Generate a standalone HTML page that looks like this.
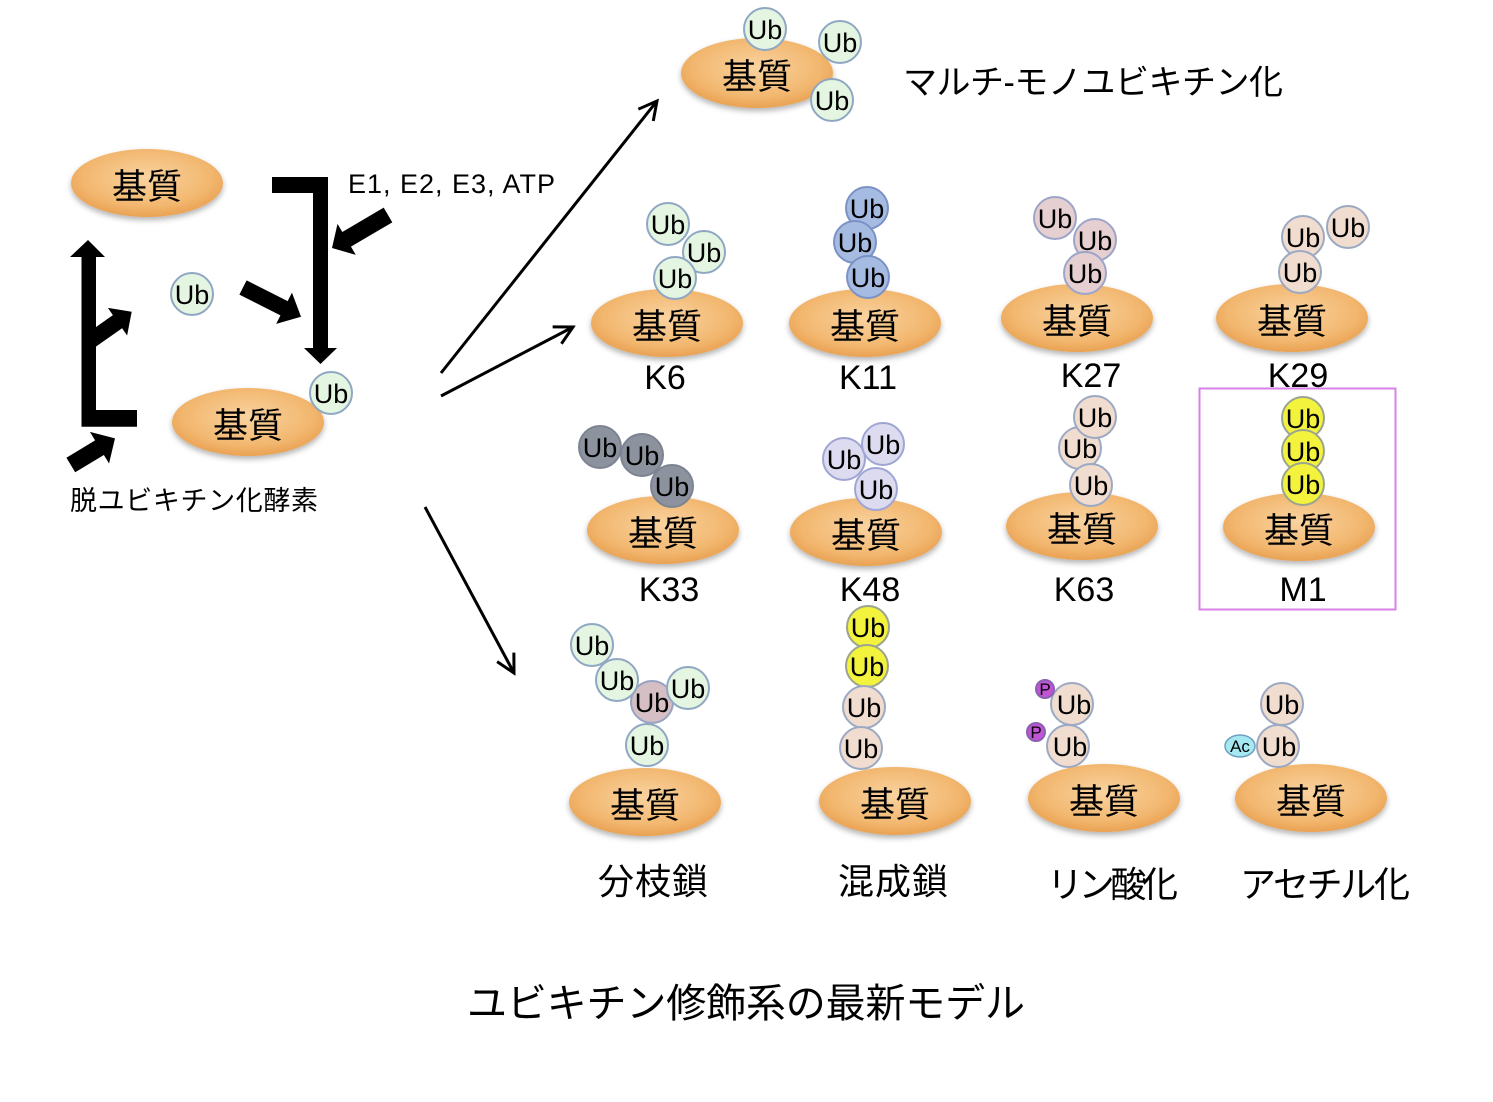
<!DOCTYPE html>
<html><head><meta charset="utf-8"><style>
html,body{margin:0;padding:0;background:#fff}
svg{display:block}
text{font-family:"Liberation Sans","Noto Sans CJK JP",sans-serif;fill:#000}
.u{font-size:27px;text-anchor:middle}
.s{font-size:35px;text-anchor:middle}
.k{font-size:34px;text-anchor:middle}
.j{font-size:36px}
.e{fill:url(#og)}
circle{stroke-width:2}
.cg{fill:#e4f5e1;stroke:#8fa7c3}
.cb{fill:#a6bbe2;stroke:#7b92c4}
.cp{fill:#e5cfd0;stroke:#9ca5c8}
.ce{fill:#f1ddd0;stroke:#9ba9c2}
.cr{fill:#8c939e;stroke:#7c8391}
.cl{fill:#dcdbf0;stroke:#9fa6d3}
.cy{fill:#f3f23c;stroke:#9aa48f}
.cm{fill:#d5bfc5;stroke:#97a3c2}
</style></head><body>
<svg width="1493" height="1102" viewBox="0 0 1493 1102" xmlns="http://www.w3.org/2000/svg">
<defs>
<radialGradient id="og" cx="50%" cy="42%" r="60%">
<stop offset="0" stop-color="#f9d3a0"/>
<stop offset="0.7" stop-color="#f2b76f"/>
<stop offset="1" stop-color="#e89f50"/>
</radialGradient>
<filter id="sh" x="-20%" y="-30%" width="140%" height="170%">
<feDropShadow dx="0" dy="3" stdDeviation="3" flood-color="#000" flood-opacity="0.3"/>
</filter>
<marker id="ah" viewBox="0 0 22 22" markerWidth="22" markerHeight="22" refX="19" refY="11" orient="auto" markerUnits="userSpaceOnUse">
<path d="M1,1.5 L19,11 L1,20.5" fill="none" stroke="#000" stroke-width="3"/>
</marker>
</defs>

<!-- Left cycle -->
<ellipse class="e" cx="147" cy="183" rx="76" ry="34" filter="url(#sh)"/>
<text class="s" x="147" y="199">基質</text>
<ellipse class="e" cx="248" cy="422" rx="76" ry="34" filter="url(#sh)"/>
<text class="s" x="248" y="438">基質</text>
<circle class="cg" cx="192" cy="294" r="21"/><text class="u" x="192" y="304">Ub</text>
<circle class="cg" cx="331" cy="393" r="21"/><text class="u" x="331" y="403">Ub</text>

<!-- bracket with down arrow -->
<polygon points="272,177 328,177 328,348 337,348 320.5,364 304,348 313,348 313,193 272,193" fill="#000"/>
<!-- left up arrow with bottom foot -->
<polygon points="81.5,426.7 137,426.7 137,410 96,410 96,257 105,257 88,240 70,257 81.5,257" fill="#000"/>
<!-- branch arrow -->
<polygon points="95,327.7 112.9,315.1 107.9,307.9 131.7,311.7 127.1,335.5 122.1,328.3 95,347.3" fill="#000"/>
<!-- E1 arrow -->
<g transform="translate(388,215) rotate(149.5)">
<polygon points="0,-8.5 48,-8.5 48,-18 65,0 48,18 48,8.5 0,8.5" fill="#000"/>
</g>
<!-- Ub to bracket arrow -->
<g transform="translate(243,287.5) rotate(26.8)">
<polygon points="0,-8 46,-8 46,-17.5 65,0 46,17.5 46,8 0,8" fill="#000"/>
</g>
<!-- deubiquitinase arrow -->
<g transform="translate(70.8,465) rotate(-31.1)">
<polygon points="0,-8.5 33.5,-8.5 33.5,-18.5 51.6,0 33.5,18.5 33.5,8.5 0,8.5" fill="#000"/>
</g>
<text x="348" y="193" style="font-size:27px" textLength="207">E1, E2, E3, ATP</text>
<text x="70" y="510" style="font-size:27px" textLength="248">脱ユビキチン化酵素</text>

<!-- thin arrows -->
<line x1="441" y1="373" x2="657" y2="101" stroke="#000" stroke-width="3" marker-end="url(#ah)"/>
<line x1="441" y1="396" x2="573" y2="327" stroke="#000" stroke-width="3" marker-end="url(#ah)"/>
<line x1="425" y1="507" x2="514" y2="673" stroke="#000" stroke-width="3" marker-end="url(#ah)"/>

<!-- Multi-mono -->
<ellipse class="e" cx="757" cy="73" rx="76" ry="35" filter="url(#sh)"/>
<text class="s" x="757" y="89">基質</text>
<circle class="cg" cx="765" cy="29" r="21"/><text class="u" x="765" y="39">Ub</text>
<circle class="cg" cx="840" cy="42" r="21"/><text class="u" x="840" y="52">Ub</text>
<circle class="cg" cx="832" cy="100" r="21"/><text class="u" x="832" y="110">Ub</text>
<text x="903" y="94" style="font-size:34px" textLength="380">マルチ-モノユビキチン化</text>

<!-- K6 -->
<ellipse class="e" cx="667" cy="323" rx="76" ry="34" filter="url(#sh)"/>
<circle class="cg" cx="668" cy="224" r="21"/><text class="u" x="668" y="234">Ub</text>
<circle class="cg" cx="704" cy="252" r="21"/><text class="u" x="704" y="262">Ub</text>
<circle class="cg" cx="675" cy="278" r="21"/><text class="u" x="675" y="288">Ub</text>
<text class="s" x="667" y="339">基質</text>
<text class="k" x="665" y="389">K6</text>

<!-- K11 -->
<ellipse class="e" cx="865" cy="323" rx="76" ry="34" filter="url(#sh)"/>
<circle class="cb" cx="867" cy="208" r="21"/><text class="u" x="867" y="218">Ub</text>
<circle class="cb" cx="855" cy="242" r="21"/><text class="u" x="855" y="252">Ub</text>
<circle class="cb" cx="868" cy="277" r="21"/><text class="u" x="868" y="287">Ub</text>
<text class="s" x="865" y="339">基質</text>
<text class="k" x="868" y="389">K11</text>

<!-- K27 -->
<ellipse class="e" cx="1077" cy="318" rx="76" ry="34" filter="url(#sh)"/>
<circle class="cp" cx="1055" cy="218" r="21"/><text class="u" x="1055" y="228">Ub</text>
<circle class="cp" cx="1095" cy="240" r="21"/><text class="u" x="1095" y="250">Ub</text>
<circle class="cp" cx="1085" cy="273" r="21"/><text class="u" x="1085" y="283">Ub</text>
<text class="s" x="1077" y="334">基質</text>
<text class="k" x="1091" y="387">K27</text>

<!-- K29 -->
<ellipse class="e" cx="1292" cy="318" rx="76" ry="34" filter="url(#sh)"/>
<circle class="ce" cx="1348" cy="227" r="21"/><text class="u" x="1348" y="237">Ub</text>
<circle class="ce" cx="1303" cy="237" r="21"/><text class="u" x="1303" y="247">Ub</text>
<circle class="ce" cx="1300" cy="272" r="21"/><text class="u" x="1300" y="282">Ub</text>
<text class="s" x="1292" y="334">基質</text>
<text class="k" x="1298" y="387">K29</text>

<!-- K33 -->
<ellipse class="e" cx="663" cy="530" rx="76" ry="34" filter="url(#sh)"/>
<circle class="cr" cx="600" cy="447" r="21"/><text class="u" x="600" y="457">Ub</text>
<circle class="cr" cx="642" cy="455" r="21"/><text class="u" x="642" y="465">Ub</text>
<circle class="cr" cx="672" cy="486" r="21"/><text class="u" x="672" y="496">Ub</text>
<text class="s" x="663" y="546">基質</text>
<text class="k" x="669" y="601">K33</text>

<!-- K48 -->
<ellipse class="e" cx="866" cy="532" rx="76" ry="34" filter="url(#sh)"/>
<circle class="cl" cx="844" cy="459" r="21"/><text class="u" x="844" y="469">Ub</text>
<circle class="cl" cx="883" cy="444" r="21"/><text class="u" x="883" y="454">Ub</text>
<circle class="cl" cx="876" cy="489" r="21"/><text class="u" x="876" y="499">Ub</text>
<text class="s" x="866" y="548">基質</text>
<text class="k" x="870" y="601">K48</text>

<!-- K63 -->
<ellipse class="e" cx="1082" cy="526" rx="76" ry="34" filter="url(#sh)"/>
<circle class="ce" cx="1080" cy="448" r="21"/><text class="u" x="1080" y="458">Ub</text>
<circle class="ce" cx="1095" cy="417" r="21"/><text class="u" x="1095" y="427">Ub</text>
<circle class="ce" cx="1091" cy="485" r="21"/><text class="u" x="1091" y="495">Ub</text>
<text class="s" x="1082" y="542">基質</text>
<text class="k" x="1084" y="601">K63</text>

<!-- M1 -->
<rect x="1199.5" y="388.5" width="196" height="221" fill="none" stroke="#d780e6" stroke-width="2"/>
<ellipse class="e" cx="1299" cy="527" rx="76" ry="34" filter="url(#sh)"/>
<circle class="cy" cx="1303" cy="418" r="21"/><text class="u" x="1303" y="428">Ub</text>
<circle class="cy" cx="1303" cy="451" r="21"/><text class="u" x="1303" y="461">Ub</text>
<circle class="cy" cx="1303" cy="484" r="21"/><text class="u" x="1303" y="494">Ub</text>
<text class="s" x="1299" y="543">基質</text>
<text class="k" x="1303" y="601">M1</text>

<!-- Branched -->
<ellipse class="e" cx="645" cy="802" rx="76" ry="34" filter="url(#sh)"/>
<circle class="cg" cx="592" cy="645" r="21"/><text class="u" x="592" y="655">Ub</text>
<circle class="cm" cx="652" cy="702" r="21"/>
<circle class="cg" cx="617" cy="680" r="21"/><text class="u" x="617" y="690">Ub</text>
<circle class="cg" cx="688" cy="688" r="21"/><text class="u" x="688" y="698">Ub</text>
<text class="u" x="652" y="712">Ub</text>
<circle class="cg" cx="647" cy="745" r="21"/><text class="u" x="647" y="755">Ub</text>
<text class="s" x="645" y="818">基質</text>
<text class="j" x="598" y="894" textLength="110">分枝鎖</text>

<!-- Mixed -->
<ellipse class="e" cx="895" cy="801" rx="76" ry="34" filter="url(#sh)"/>
<circle class="cy" cx="868" cy="627" r="21"/><text class="u" x="868" y="637">Ub</text>
<circle class="cy" cx="867" cy="666" r="21"/><text class="u" x="867" y="676">Ub</text>
<circle class="ce" cx="864" cy="707" r="21"/><text class="u" x="864" y="717">Ub</text>
<circle class="ce" cx="861" cy="748" r="21"/><text class="u" x="861" y="758">Ub</text>
<text class="s" x="895" y="817">基質</text>
<text class="j" x="838" y="894" textLength="110">混成鎖</text>

<!-- Phosphorylation -->
<ellipse class="e" cx="1104" cy="798" rx="76" ry="34" filter="url(#sh)"/>
<circle class="ce" cx="1072" cy="704" r="21"/><text class="u" x="1074" y="714">Ub</text>
<circle class="ce" cx="1068" cy="746" r="21"/><text class="u" x="1070" y="756">Ub</text>
<circle cx="1045" cy="689" r="9" fill="#c153d6" stroke="#8a62b0" stroke-width="1.5"/>
<text x="1045" y="695" style="font-size:17px;text-anchor:middle">P</text>
<circle cx="1036" cy="732" r="9" fill="#c153d6" stroke="#8a62b0" stroke-width="1.5"/>
<text x="1036" y="738" style="font-size:17px;text-anchor:middle">P</text>
<text class="s" x="1104" y="814">基質</text>
<text class="j" x="1047" y="897" textLength="131">リン酸化</text>

<!-- Acetylation -->
<ellipse class="e" cx="1311" cy="798" rx="76" ry="34" filter="url(#sh)"/>
<circle class="ce" cx="1282" cy="704" r="21"/><text class="u" x="1282" y="714">Ub</text>
<circle class="ce" cx="1278" cy="746" r="21"/><text class="u" x="1279" y="756">Ub</text>
<ellipse cx="1240" cy="746" rx="15" ry="11" fill="#a5e8f2" stroke="#6f9fc0" stroke-width="1.5"/>
<text x="1240" y="752" style="font-size:17px;text-anchor:middle">Ac</text>
<text class="s" x="1311" y="814">基質</text>
<text class="j" x="1240" y="897" textLength="170">アセチル化</text>

<!-- Title -->
<text x="467" y="1017" style="font-size:40px" textLength="558">ユビキチン修飾系の最新モデル</text>
</svg>
</body></html>
